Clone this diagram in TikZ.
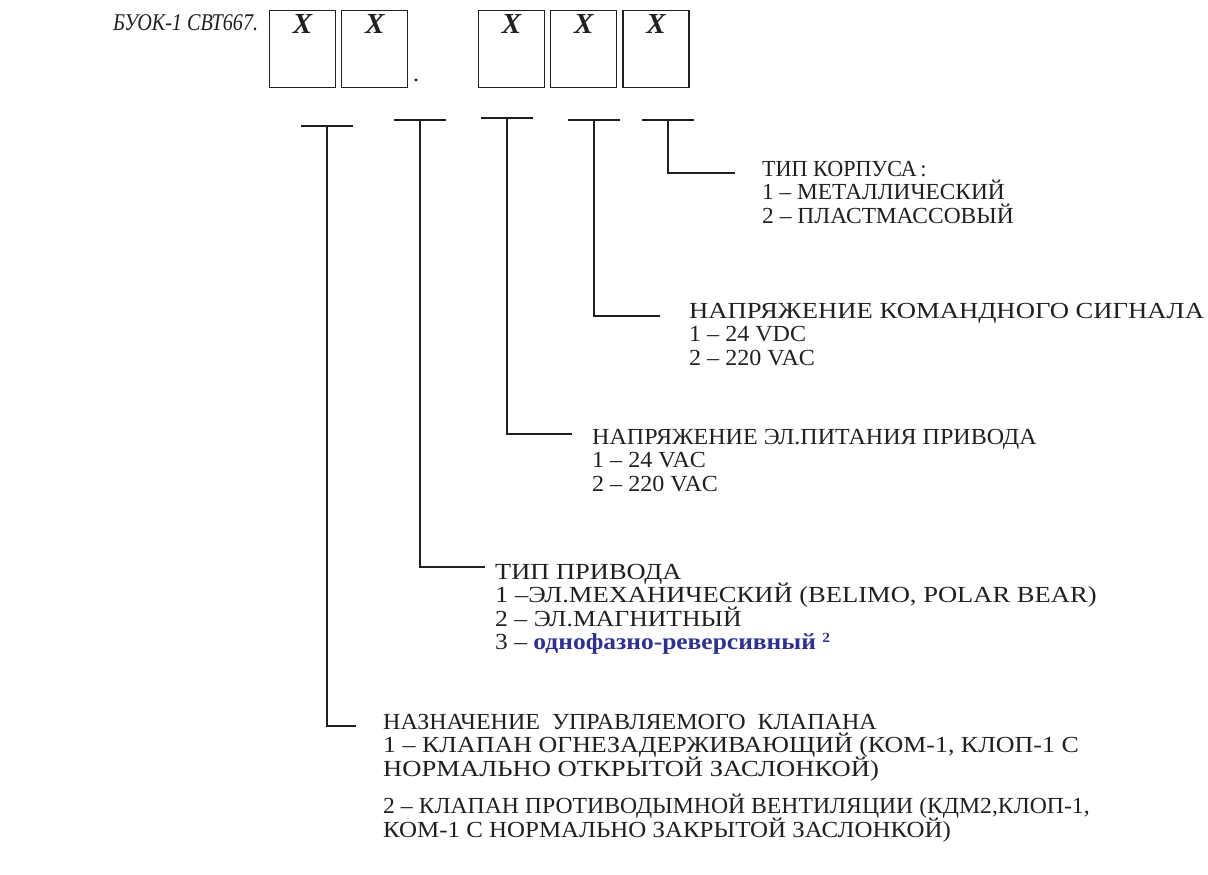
\documentclass[tikz,border=0pt]{standalone}
\usepackage{fontspec}
\usepackage{graphicx}
\setmainfont{Liberation Serif}
\newfontfamily\blockfont[FakeStretch=1.045]{Liberation Serif}
\usetikzlibrary{positioning}

\definecolor{ink}{HTML}{231F20}
\definecolor{blueink}{HTML}{2E3192}

% one line of a block, stretched to the width it has in the drawing
\newcommand{\wline}[2]{\scalebox{#1}[1]{#2}}
\setlength{\lineskiplimit}{-50pt}

\begin{document}
\begin{tikzpicture}[
		x=1pt, y=-1pt,
		every node/.style={text=ink},
		digit/.style={draw=ink, line width=1.2pt, minimum width=66pt, inner sep=0pt,
			text height=23pt, text depth=54pt, font=\bfseries\itshape\fontsize{29}{29}\selectfont},
		blk/.style={anchor=north west, inner sep=0pt, align=left,
			font=\blockfont\fontsize{23}{23.5}\selectfont},
		lead/.style={draw=ink, line width=1.1pt}
	]
		\useasboundingbox (0,0) rectangle (1208,875);

		% Code of the unit
		\node[anchor=west, inner sep=0pt, font=\itshape\fontsize{24}{24}\selectfont] (title) at (113,23) {\wline{0.84}{БУОК-1 СВТ667.}};
		\node[digit, anchor=north west] (d1) at (269,10) {X};
		\node[digit, right=5pt of d1] (d2) {X};
		\node[inner sep=0pt, font=\fontsize{24}{24}\selectfont] (dot) at (416,80) {.};
		\node[digit, anchor=north west] (d3) at (478,10) {X};
		\node[digit, right=5pt of d3] (d4) {X};
		\node[digit, right=5pt of d4] (d5) {X};

		% Leader bars
		\coordinate (b1) at (327,126);
		\coordinate (b2) at (420,120);
		\coordinate (b3) at (507,118);
		\coordinate (b4) at (594,120);
		\coordinate (b5) at (668,120);
		\foreach \b in {b1,b2,b3,b4,b5}
			\draw[lead] ([xshift=-26pt]\b) -- ([xshift=26pt]\b);

		% Leader ends
		\coordinate (e1) at (356,726);
		\coordinate (e2) at (485,567);
		\coordinate (e3) at (572,434);
		\coordinate (e4) at (660,316);
		\coordinate (e5) at (735,173);

		% Body case
		\node[blk] (t5) at (762,161) {\wline{0.92}{ТИП КОРПУСА\,:}\\ \wline{0.97}{1 – МЕТАЛЛИЧЕСКИЙ}\\ \wline{0.977}{2 – ПЛАСТМАССОВЫЙ}};
		% Command signal
		\node[blk] (t4) at (689,303) {\wline{1.11}{НАПРЯЖЕНИЕ КОМАНДНОГО СИГНАЛА}\\ 1 – 24 VDC\\ 2 – 220 VAC};
		% Drive supply
		\node[blk] (t3) at (592,429) {НАПРЯЖЕНИЕ ЭЛ.ПИТАНИЯ ПРИВОДА\\ 1 – 24 VAC\\ 2 – 220 VAC};
		% Drive type
		\node[blk] (t2) at (495,564) {\wline{1.1}{ТИП ПРИВОДА}\\ \wline{1.105}{1 –ЭЛ.МЕХАНИЧЕСКИЙ (BELIMO, POLAR BEAR)}\\ \wline{1.07}{2 – ЭЛ.МАГНИТНЫЙ}\\
			\wline{1.06}{3 – {\color{blueink}\bfseries однофазно-реверсивный \raisebox{7pt}{\fontsize{14}{14}\selectfont 2}}}};
		% Valve purpose
		\node[blk] (t1) at (383,714) {НАЗНАЧЕНИЕ\ \ УПРАВЛЯЕМОГО\ \ КЛАПАНА\\
			\wline{1.08}{1 – КЛАПАН ОГНЕЗАДЕРЖИВАЮЩИЙ (КОМ-1, КЛОП-1 С}\\
			\wline{1.107}{НОРМАЛЬНО ОТКРЫТОЙ ЗАСЛОНКОЙ)}\\[14pt]
			\wline{0.986}{2 – КЛАПАН ПРОТИВОДЫМНОЙ ВЕНТИЛЯЦИИ (КДМ2,КЛОП-1,}\\
			\wline{1.037}{КОМ-1 С НОРМАЛЬНО ЗАКРЫТОЙ ЗАСЛОНКОЙ)}};

		% Leaders
		\foreach \i in {1,...,5}
			\draw[lead] (b\i) |- (e\i);
\end{tikzpicture}
\end{document}
